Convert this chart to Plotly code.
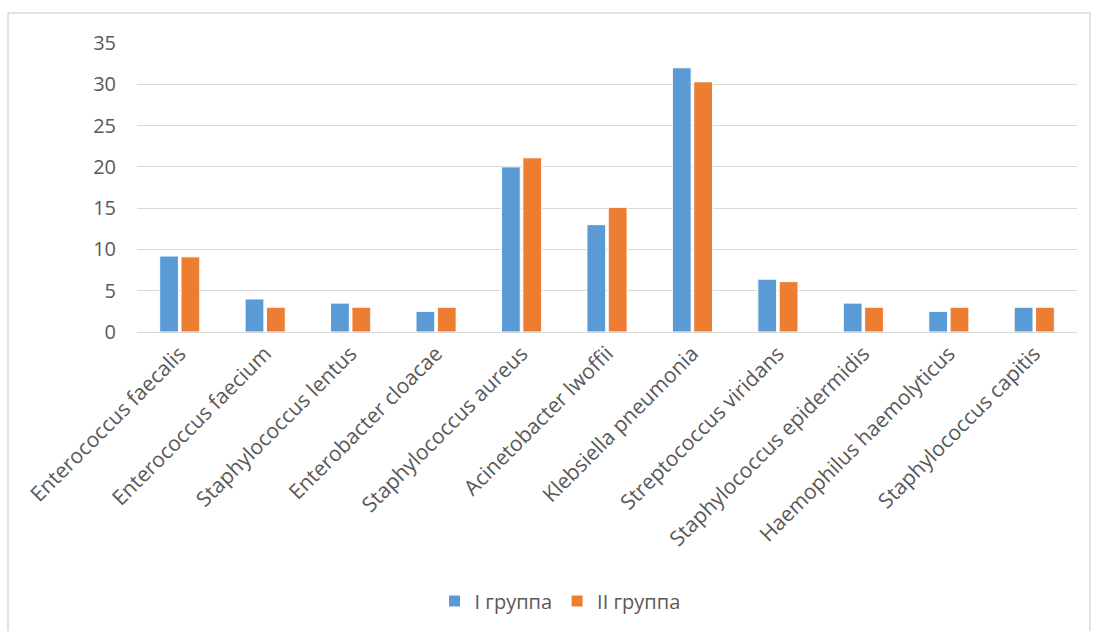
import plotly.graph_objects as go

categories = ["Enterococcus faecalis", "Enterococcus faecium", "Staphylococcus lentus",
              "Enterobacter cloacae", "Staphylococcus aureus", "Acinetobacter lwoffii",
              "Klebsiella pneumonia", "Streptococcus viridans", "Staphylococcus epidermidis",
              "Haemophilus haemolyticus", "Staphylococcus capitis"]
group1 = [9.2, 4.0, 3.5, 2.5, 20.0, 13.0, 32.0, 6.4, 3.5, 2.5, 3.0]
group2 = [9.1, 3.0, 3.0, 3.0, 21.1, 15.1, 30.3, 6.1, 3.0, 3.0, 3.0]
series_names = ["I группа", "II группа"]

W, H = 1093, 631
L, R, T, B = 137, 16, 43, 298
pw, ph = W - L - R, H - T - B

def px2paper(x, y):
    return (x - L) / pw, (H - B - y) / ph

fig = go.Figure()
fig.add_bar(x=categories, y=group1, name=series_names[0],
            marker=dict(color="#5B9BD5", line=dict(color="white", width=1)))
fig.add_bar(x=categories, y=group2, name=series_names[1],
            marker=dict(color="#ED7D31", line=dict(color="white", width=1)))

x0, y0 = px2paper(8, 13)
x1, y1 = px2paper(1090, 645)
fig.add_shape(type="rect", xref="paper", yref="paper", x0=x0, y0=y1, x1=x1, y1=y0,
              line=dict(color="#d9d9d9", width=1.5), layer="below")

lx, ly = px2paper(560, 601)
fig.update_layout(
    width=W, height=H,
    margin=dict(l=L, r=R, t=T, b=B, pad=0),
    paper_bgcolor="white", plot_bgcolor="white",
    barmode="group", bargap=0.5, bargroupgap=0.12,
    font=dict(family="Open Sans", color="#595959", size=20),
    showlegend=True,
    legend=dict(orientation="h", x=lx, xanchor="center", y=ly, yanchor="middle",
                font=dict(size=20, color="#595959"), itemwidth=30, traceorder="normal"),
    xaxis=dict(tickangle=-45, tickfont=dict(size=21, color="#595959"),
               showline=True, linecolor="#d9d9d9", linewidth=1, ticks="", showgrid=False),
    yaxis=dict(range=[0, 35], dtick=5, showgrid=True, gridcolor="#d9d9d9", gridwidth=1,
               zeroline=False, tickfont=dict(size=20, color="#595959"), ticks="",
               ticklabelstandoff=20),
)
fig.write_html("out.html")
